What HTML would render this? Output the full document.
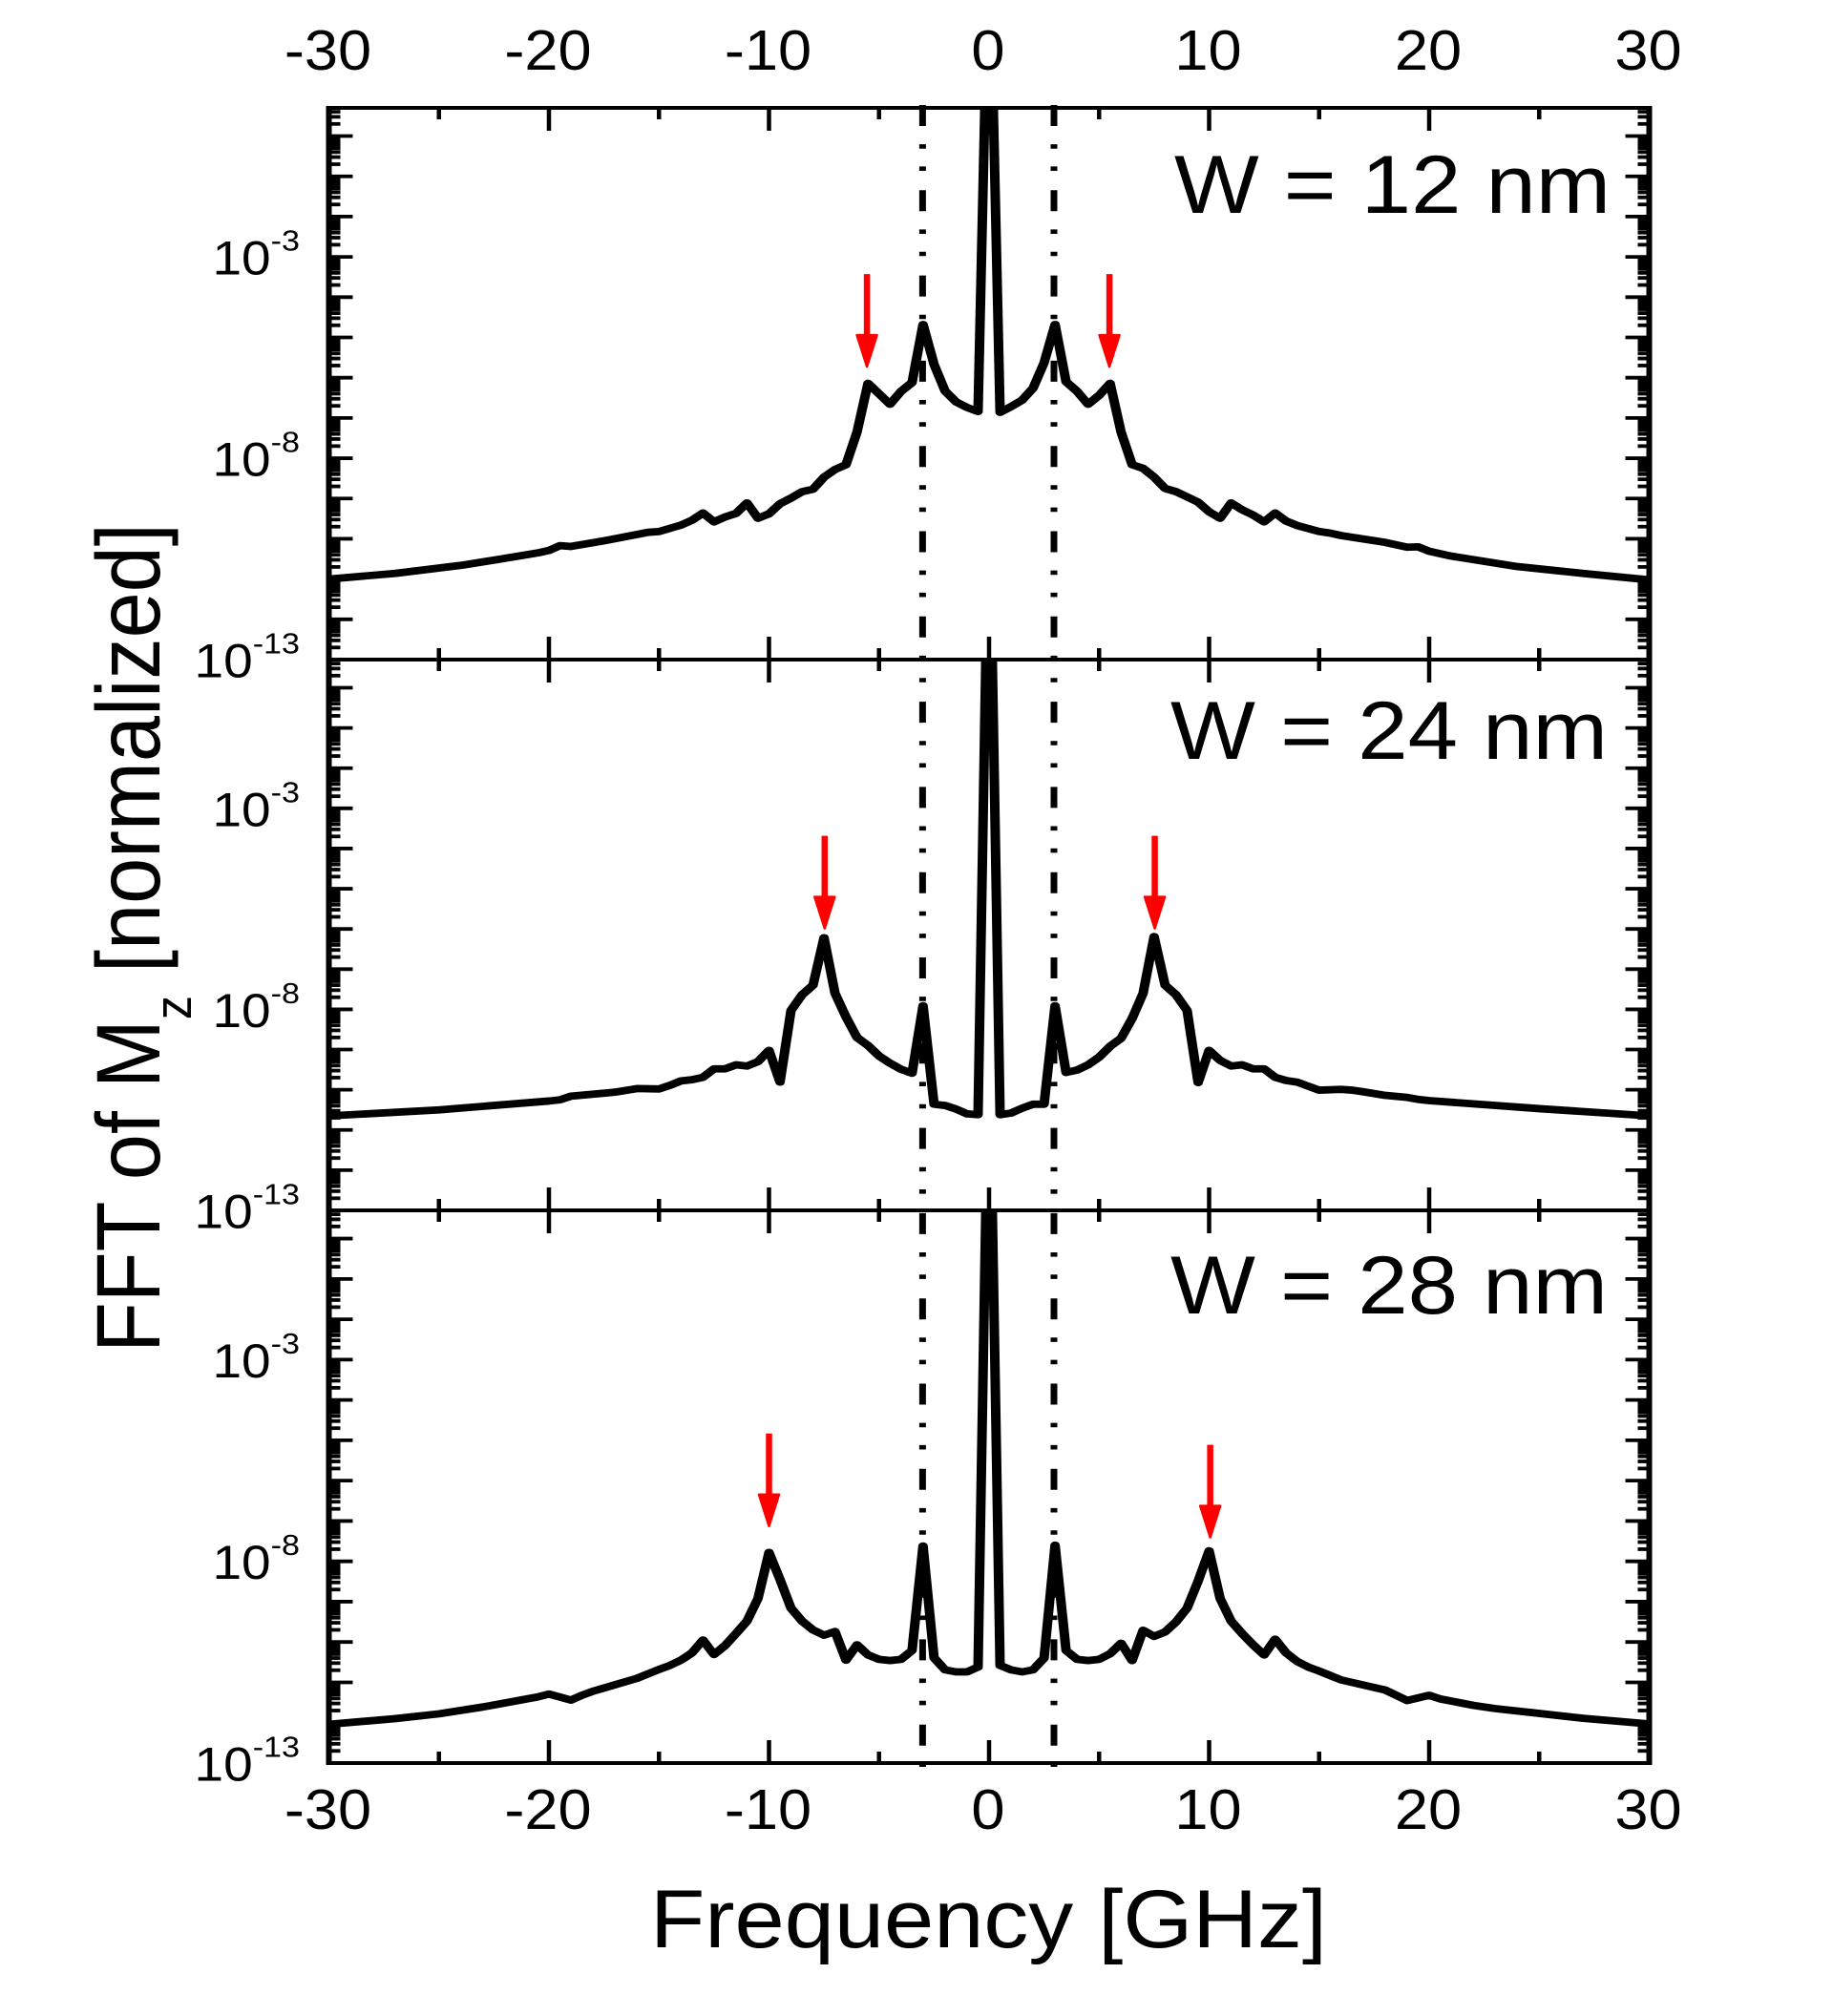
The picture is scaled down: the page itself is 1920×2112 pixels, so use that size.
<!DOCTYPE html>
<html lang="en">
<head>
<meta charset="utf-8">
<title>FFT of Mz spectra</title>
<style>
html,body{margin:0;padding:0;background:#fff;}
svg{display:block;}
text{font-family:"Liberation Sans",Arial,sans-serif;fill:#000;}
</style>
</head>
<body>
<svg id="chart" xmlns="http://www.w3.org/2000/svg" width="1920" height="2112" viewBox="0 0 1920 2112">
  <rect x="0" y="0" width="1920" height="2112" fill="#fff"/>
  <g id="layer-refs"></g>
  <g id="layer-curves"></g>
  <g id="layer-axes"></g>
  <g id="layer-arrows"></g>
  <g id="layer-labels"></g>
  <text x="1230" y="223" font-size="86" textLength="457" lengthAdjust="spacingAndGlyphs">W = 12 nm</text>
  <text x="1226" y="795" font-size="86" textLength="458" lengthAdjust="spacingAndGlyphs">W = 24 nm</text>
  <text x="1226" y="1376" font-size="86" textLength="458" lengthAdjust="spacingAndGlyphs">W = 28 nm</text>
  <text x="681" y="2040" font-size="86" textLength="709" lengthAdjust="spacingAndGlyphs">Frequency [GHz]</text>
  <text transform="translate(167 1417) rotate(-90) scale(1.005 1.1)" font-size="86">FFT of M<tspan dy="30" font-size="50">z</tspan><tspan dy="-30"> [normalized]</tspan></text>
</svg>
<script>
// ---- data: frequency in GHz, value as log10(amplitude) ----
const freqW12 = [-30,-27,-24,-22.5,-20.5,-20,-19.5,-19,-17.5,-15.5,-15,-14,-13.5,-13,-12.5,-12,-11.5,-11,-10.5,-10,-9.5,-9,-8.5,-8,-7.5,-7,-6.5,-6,-5.5,-5,-4.5,-4,-3.5,-3,-2.5,-2,-1.5,-1,-0.5,0,0.5,1,1.5,2,2.5,3,3.5,4,4.5,5,5.5,6,6.5,7,7.5,8,8.5,9,9.5,10,10.5,11,11.5,12,12.5,13,13.5,14,15,15.5,16,18,19,19.5,20,21,24,27,30];
const logW12 = [-11.00,-10.86,-10.66,-10.53,-10.35,-10.29,-10.17,-10.19,-10.05,-9.84,-9.82,-9.66,-9.54,-9.36,-9.58,-9.46,-9.37,-9.11,-9.49,-9.38,-9.13,-8.99,-8.83,-8.77,-8.47,-8.28,-8.16,-7.35,-6.14,-6.40,-6.66,-6.34,-6.12,-4.68,-5.67,-6.33,-6.60,-6.74,-6.84,5.4,-6.86,-6.72,-6.56,-6.26,-5.63,-4.68,-6.10,-6.34,-6.66,-6.44,-6.14,-7.35,-8.16,-8.25,-8.47,-8.75,-8.83,-8.96,-9.09,-9.33,-9.49,-9.11,-9.28,-9.41,-9.58,-9.36,-9.56,-9.67,-9.82,-9.86,-9.92,-10.09,-10.21,-10.20,-10.31,-10.43,-10.69,-10.86,-11.02];

const freqW24 = [-30,-25,-20,-19.5,-19,-17,-16,-15,-14.5,-14,-13.5,-13,-12.5,-12,-11.5,-11,-10.5,-10,-9.5,-9,-8.5,-8,-7.5,-7,-6.5,-6,-5.5,-5,-4.5,-4,-3.5,-3,-2.5,-2,-1.5,-1,-0.5,0,0.5,1,1.5,2,2.5,3,3.5,4,4.5,5,5.5,6,6.5,7,7.5,8,8.5,9,9.5,10,10.5,11,11.5,12,12.5,13,13.5,14,14.5,15,16,16.5,17,18,19,19.5,20,25,30];
const logW24 = [-10.65,-10.50,-10.28,-10.25,-10.16,-10.06,-9.97,-9.98,-9.89,-9.78,-9.75,-9.69,-9.48,-9.48,-9.38,-9.41,-9.30,-9.02,-9.81,-8.03,-7.64,-7.40,-6.22,-7.60,-8.19,-8.70,-8.90,-9.16,-9.34,-9.49,-9.59,-7.91,-10.36,-10.39,-10.48,-10.60,-10.62,5.4,-10.62,-10.58,-10.46,-10.36,-10.36,-7.91,-9.57,-9.51,-9.38,-9.19,-8.92,-8.72,-8.23,-7.60,-6.19,-7.40,-7.64,-8.03,-9.82,-9.02,-9.27,-9.41,-9.38,-9.48,-9.48,-9.69,-9.77,-9.81,-9.91,-10.01,-9.99,-10.01,-10.05,-10.14,-10.19,-10.24,-10.27,-10.47,-10.65];

const freqW28 = [-30,-27,-25,-23,-22,-20.5,-20,-19,-18.5,-18,-16,-15,-14.5,-14,-13.5,-13,-12.5,-12,-11.5,-11,-10.5,-10,-9.5,-9,-8.5,-8,-7.5,-7,-6.5,-6,-5.5,-5,-4.5,-4,-3.5,-3,-2.5,-2,-1.5,-1,-0.5,0,0.5,1,1.5,2,2.5,3,3.5,4,4.5,5,5.5,6,6.5,7,7.5,8,8.5,9,9.5,10,10.5,11,11.5,12,12.5,13,13.5,14,14.5,15,16,18,19,20,20.5,22,23,25,27,30];
const logW28 = [-12.04,-11.90,-11.78,-11.61,-11.51,-11.36,-11.29,-11.44,-11.32,-11.22,-10.90,-10.68,-10.58,-10.45,-10.27,-9.95,-10.31,-10.09,-9.79,-9.48,-8.92,-7.78,-8.45,-9.16,-9.48,-9.70,-9.83,-9.74,-10.45,-10.07,-10.32,-10.43,-10.46,-10.43,-10.21,-7.62,-10.39,-10.69,-10.74,-10.74,-10.62,5.4,-10.58,-10.69,-10.74,-10.69,-10.40,-7.60,-10.21,-10.43,-10.46,-10.43,-10.29,-10.03,-10.46,-9.71,-9.86,-9.75,-9.50,-9.16,-8.49,-7.74,-8.92,-9.48,-9.79,-10.07,-10.32,-9.93,-10.27,-10.48,-10.62,-10.72,-10.94,-11.19,-11.45,-11.32,-11.41,-11.57,-11.65,-11.77,-11.89,-12.03];

const xMajorTicks = [-30,-20,-10,0,10,20,30];
const xMinorTicks = [-25,-15,-5,5,15,25];
const xTickLabels = ["-30","-20","-10","0","10","20","30"];
const yLabelExponents = [-13,-8,-3];
const yDecades = [-13,-12,-11,-10,-9,-8,-7,-6,-5,-4,-3,-2,-1,0];
const yMinorMultipliers = [2,3,4,5,6,7,8,9];
const refFreqs = [-3.02,2.95];
const arrowFreqW12 = [-5.55,5.47];
const arrowTipW12 = [-5.75,-5.75];
const arrowFreqW24 = [-7.47,7.53];
const arrowTipW24 = [-6.01,-6.01];
const arrowFreqW28 = [-10.0,10.05];
const arrowTipW28 = [-7.15,-7.43];

// ---- layout ----
const SVGNS = 'http://www.w3.org/2000/svg';
const LEFT = 344.5, RIGHT = 1727.5, CENTER = 1036, PX_PER_GHZ = 23.05;
const LOG_MIN = -13, LOG_MAX = 0.7;
const panelTops = [113, 691, 1268];
const panelBottoms = [691, 1268, 1847];
const panelNames = ['w12', 'w24', 'w28'];
const CURVE_STRETCH = 1.28;
const X_LABEL_STRETCH = 1.07;
const Y_LABEL_STRETCH = 1.1;

function xScale(f) { return CENTER + f * PX_PER_GHZ; }
function yScale(p, v) {
  const top = panelTops[p], bottom = panelBottoms[p];
  return bottom - (v - LOG_MIN) / (LOG_MAX - LOG_MIN) * (bottom - top);
}
function mk(tag, parent) {
  const el = document.createElementNS(SVGNS, tag);
  parent.appendChild(el);
  return el;
}
function line(parent, x1, y1, x2, y2, w) {
  const l = mk('line', parent);
  l.setAttribute('x1', x1); l.setAttribute('y1', y1);
  l.setAttribute('x2', x2); l.setAttribute('y2', y2);
  l.setAttribute('stroke', '#000');
  l.setAttribute('stroke-width', w);
  return l;
}
function stretchText(t, factor) {
  const len = t.getComputedTextLength();
  t.setAttribute('textLength', (len * factor).toFixed(2));
  t.setAttribute('lengthAdjust', 'spacingAndGlyphs');
}

const refLayer = document.getElementById('layer-refs');
const curveLayer = document.getElementById('layer-curves');
const axisLayer = document.getElementById('layer-axes');
const arrowLayer = document.getElementById('layer-arrows');
const labelLayer = document.getElementById('layer-labels');

// reference dash-dot-dot lines
refFreqs.forEach(function (f) {
  const l = line(refLayer, xScale(f), 110, xScale(f), 1851, 7);
  l.setAttribute('stroke-dasharray', '22 19.1 4.6 18.7 4.6 20.3');
  
  
});

// curves
const defs = mk('defs', curveLayer);
const allFreqs = [freqW12, freqW24, freqW28];
const allLogs = [logW12, logW24, logW28];
allFreqs.forEach(function (freqs, p) {
  const clip = mk('clipPath', defs);
  clip.setAttribute('id', 'clip-' + panelNames[p]);
  const r = mk('rect', clip);
  r.setAttribute('x', LEFT);
  r.setAttribute('y', panelTops[p]);
  r.setAttribute('width', RIGHT - LEFT);
  r.setAttribute('height', panelBottoms[p] - panelTops[p]);
  const outer = mk('g', curveLayer);
  outer.setAttribute('clip-path', 'url(#clip-' + panelNames[p] + ')');
  
  
  const inner = mk('g', outer);
  inner.setAttribute('transform', 'scale(' + CURVE_STRETCH + ' 1)');
  const path = mk('path', inner);
  let d = '';
  freqs.forEach(function (f, i) {
    d += (i ? 'L' : 'M') + (xScale(f) / CURVE_STRETCH).toFixed(2) + ' ' + yScale(p, allLogs[p][i]).toFixed(2);
  });
  path.setAttribute('d', d);
  path.setAttribute('fill', 'none');
  path.setAttribute('stroke', '#000');
  path.setAttribute('stroke-width', '7.8');
  path.setAttribute('stroke-linejoin', 'round');
  
  
});

// axes
panelTops.forEach(function (top, p) {
  const bottom = panelBottoms[p];
  // horizontal spines
  const spineTop = line(axisLayer, LEFT - 3, top, RIGHT + 3, top, 4);
  
  
  const spineBottom = line(axisLayer, LEFT - 3, bottom, RIGHT + 3, bottom, 4);
  
  
  // x ticks
  xMajorTicks.forEach(function (f) {
    if (f === -30 || f === 30) return;
    const a = line(axisLayer, xScale(f), top, xScale(f), top + 24, 4.5);
    
    
    const b = line(axisLayer, xScale(f), bottom, xScale(f), bottom - 24, 4.5);
    
    
  });
  xMinorTicks.forEach(function (f) {
    const a = line(axisLayer, xScale(f), top, xScale(f), top + 12, 4.5);
    
    
    const b = line(axisLayer, xScale(f), bottom, xScale(f), bottom - 12, 4.5);
    
    
  });
  // y ticks
  yDecades.forEach(function (dec) {
    const y = yScale(p, dec);
    const a = line(axisLayer, LEFT, y, LEFT + 25, y, 3.8);
    
    
    const b = line(axisLayer, RIGHT, y, RIGHT - 25, y, 3.8);
    
    
    yMinorMultipliers.forEach(function (m) {
      const v = dec + Math.log10(m);
      if (v > LOG_MAX) return;
      const ym = yScale(p, v);
      const c = line(axisLayer, LEFT, ym, LEFT + 12, ym, 3.8);
      
      
      const e = line(axisLayer, RIGHT, ym, RIGHT - 12, ym, 3.8);
      
      
    });
  });
  // y labels
  yLabelExponents.forEach(function (exp) {
    const t = mk('text', labelLayer);
    t.setAttribute('x', 314);
    t.setAttribute('y', yScale(p, exp) + 18.5);
    t.setAttribute('text-anchor', 'end');
    t.setAttribute('font-size', '50');
    
    
    t.appendChild(document.createTextNode('10'));
    const s = mk('tspan', t);
    s.setAttribute('dy', '-25');
    s.setAttribute('font-size', '31');
    s.textContent = String(exp);
    stretchText(t, Y_LABEL_STRETCH);
  });
});

// vertical spines
const spineLeft = line(axisLayer, LEFT, 111, LEFT, 1849, 6);


const spineRight = line(axisLayer, RIGHT, 111, RIGHT, 1849, 6);



// x tick labels (top and bottom)
xMajorTicks.forEach(function (f, i) {
  const t = mk('text', labelLayer);
  t.setAttribute('x', xScale(f) - 1);
  t.setAttribute('y', 73);
  t.setAttribute('text-anchor', 'middle');
  t.setAttribute('font-size', '59');
  
  
  t.textContent = xTickLabels[i];
  stretchText(t, X_LABEL_STRETCH);
  const b = mk('text', labelLayer);
  b.setAttribute('x', xScale(f) - 1);
  b.setAttribute('y', 1916);
  b.setAttribute('text-anchor', 'middle');
  b.setAttribute('font-size', '59');
  
  
  b.textContent = xTickLabels[i];
  stretchText(b, X_LABEL_STRETCH);
});

// red arrows
const allArrowFreqs = [arrowFreqW12, arrowFreqW24, arrowFreqW28];
const allArrowTips = [arrowTipW12, arrowTipW24, arrowTipW28];
allArrowFreqs.forEach(function (freqs, p) {
  freqs.forEach(function (f, i) {
    const x = xScale(f);
    const tip = yScale(p, allArrowTips[p][i]);
    const shaft = mk('line', arrowLayer);
    shaft.setAttribute('x1', x); shaft.setAttribute('y1', tip - 98);
    shaft.setAttribute('x2', x); shaft.setAttribute('y2', tip - 30);
    shaft.setAttribute('stroke', '#f00');
    shaft.setAttribute('stroke-width', '6.5');
    
    
    const head = mk('polygon', arrowLayer);
    head.setAttribute('points', (x - 10.5) + ',' + (tip - 34) + ' ' + (x + 10.5) + ',' + (tip - 34) + ' ' + x + ',' + (tip - 1));
    head.setAttribute('fill', '#f00');
    head.setAttribute('stroke', '#f00');
    head.setAttribute('stroke-width', '2.5');
    head.setAttribute('stroke-linejoin', 'round');
    
    
  });
});
</script>
</body>
</html>
